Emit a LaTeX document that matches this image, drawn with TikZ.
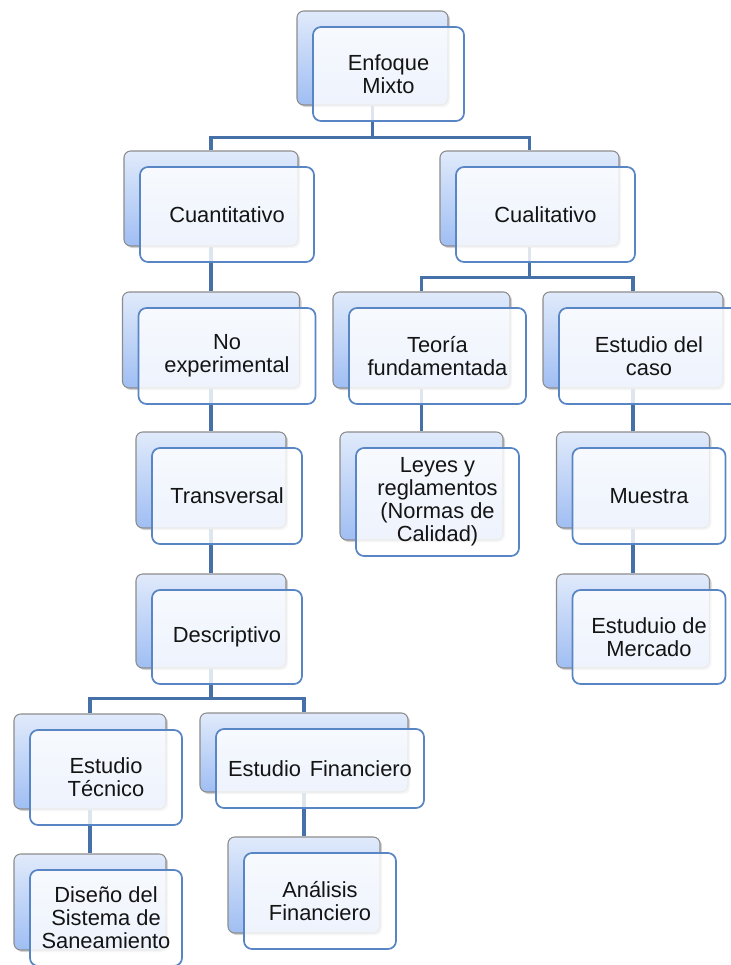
\documentclass[tikz,border=0pt]{standalone}
\usepackage{fontspec}
\setmainfont{Liberation Sans}
\usetikzlibrary{shadows,calc}
\pgfdeclarelayer{bg}
\pgfsetlayers{bg,main}
\definecolor{conn}{RGB}{70,112,168}
\definecolor{frontline}{RGB}{88,134,196}
\definecolor{backtop}{RGB}{224,234,251}
\definecolor{backbot}{RGB}{160,190,243}
\definecolor{backline}{RGB}{140,140,140}
\definecolor{txt}{RGB}{20,20,20}
\tikzset{
 backbox/.style={draw=backline, line width=0.8pt, rounded corners=5pt, top color=backtop, bottom color=backbot, drop shadow={shadow xshift=1.5pt, shadow yshift=-1.5pt, opacity=0.35}},
 frontbox/.style={draw=frontline, line width=1.3pt, rounded corners=6pt, fill=white, fill opacity=0.82, text opacity=1, text=txt, align=center, font=\fontsize{16.4}{17.2}\selectfont},
 connline/.style={draw=conn, line width=2.6pt},
}
\newcommand{\DuoBox}[6]{%
 \node[backbox, minimum width=#4*0.75pt, minimum height=#5*0.75pt] (#1b) at (#2,#3) {};
 \node[frontbox, minimum width=#4*0.75pt, minimum height=#5*0.75pt] (#1) at ([shift={(16,16)}]#1b.center) {#6};
}
\begin{document}
\begin{tikzpicture}[x=0.75pt,y=-0.75pt]
\useasboundingbox (0,0) rectangle (731,965);
\DuoBox{mix}{372.5}{58}{151}{94}{Enfoque\\Mixto}
\DuoBox{cuant}{211}{198.5}{174}{95}{Cuantitativo}
\DuoBox{cuali}{529.5}{198.5}{179}{95}{Cualitativo}
\DuoBox{noexp}{211}{340}{177}{96}{No\\experimental}
\DuoBox{teo}{421.5}{340}{177}{96}{Teoría\\fundamentada}
\DuoBox{caso}{633}{340}{180}{96}{Estudio del\\caso}
\DuoBox{trans}{211}{480}{150}{96}{Transversal}
\DuoBox{leyes}{421.5}{486}{163}{108}{Leyes y\\reglamentos\\(Normas de\\Calidad)}
\DuoBox{mues}{633}{480}{153}{96}{Muestra}
\DuoBox{desc}{211}{621}{150}{94}{Descriptivo}
\DuoBox{merc}{633}{621}{153}{94}{Estuduio de\\Mercado}
\DuoBox{tec}{90}{761.5}{152}{95}{Estudio\\Técnico}
\DuoBox{fin}{304}{752.5}{208}{79}{Estudio\hspace{0.4em}Financiero}
\DuoBox{dis}{90}{902}{152}{96}{Diseño del\\Sistema de\\Saneamiento}
\DuoBox{ana}{304}{885}{152}{96}{Análisis\\Financiero}
\begin{pgfonlayer}{bg}
\draw[connline] (mixb.south) -- ++(0,32) coordinate (j1);
\draw[connline] (cuantb.north) |- (j1) -| (cualib.north);
\draw[connline] (cualib.south) -- ++(0,31) coordinate (j2);
\draw[connline] (teob.north) |- (j2) -| (casob.north);
\draw[connline] (cuantb.south) -- (noexpb.north);
\draw[connline] (noexpb.south) -- (transb.north);
\draw[connline] (transb.south) -- (descb.north);
\draw[connline] (descb.south) -- ++(0,30) coordinate (j3);
\draw[connline] (tecb.north) |- (j3) -| (finb.north);
\draw[connline] (tecb.south) -- (disb.north);
\draw[connline] (finb.south) -- (anab.north);
\draw[connline] (teob.south) -- (leyesb.north);
\draw[connline] (casob.south) -- (muesb.north);
\draw[connline] (muesb.south) -- (mercb.north);
\end{pgfonlayer}
\end{tikzpicture}
\end{document}
